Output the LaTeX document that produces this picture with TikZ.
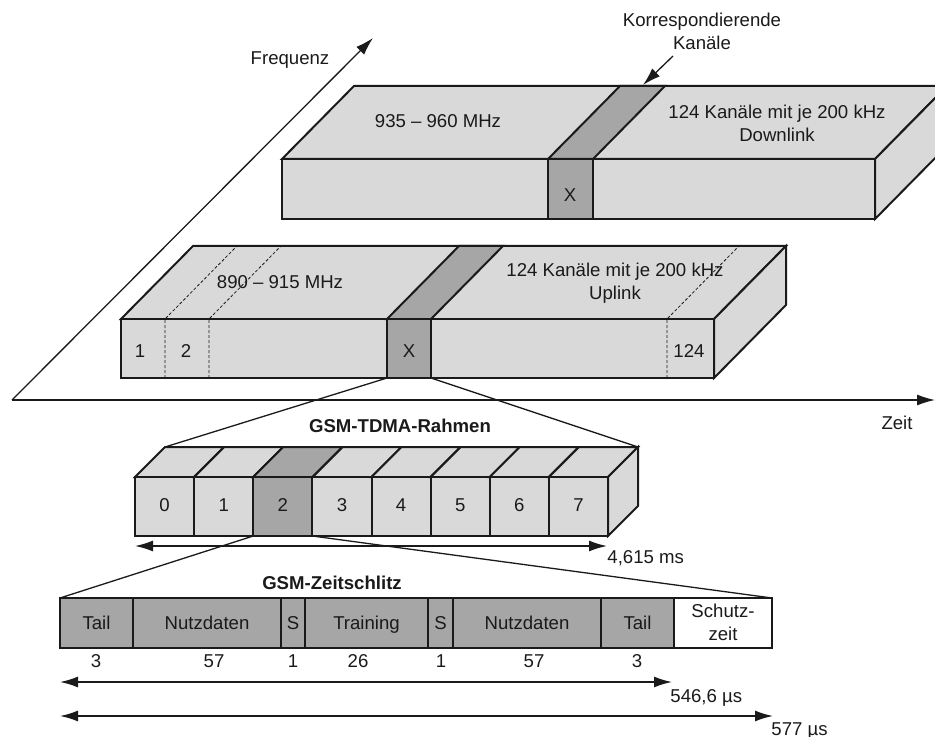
\documentclass[tikz,border=0pt]{standalone}
\usepackage{fontspec}
\setmainfont{Liberation Sans}
\usetikzlibrary{arrows.meta}
\definecolor{gsmLight}{HTML}{D9D9D9}
\definecolor{gsmDark}{HTML}{A6A6A6}
\definecolor{gsmInk}{HTML}{1A1A1A}
\newcommand{\gsmsize}{\fontsize{9.3}{11.5}\selectfont}
\tikzset{
  gsmface/.style={draw=gsmInk,line width=1pt,fill=gsmLight},
  gsmchan/.style={gsmface,fill=gsmDark},
  gsmgap/.style={gsmface,fill=white},
  gsmdiv/.style={draw=gsmInk,line width=0.4pt,dash pattern=on 1.5pt off 1pt},
  gsmaxis/.style={-{Latex[length=9pt,width=5.5pt]},draw=gsmInk,line width=0.65pt},
  gsmzoom/.style={draw=gsmInk,line width=0.65pt},
  gsmdim/.style={{Latex[length=9pt,width=5.5pt]}-{Latex[length=9pt,width=5.5pt]},
                 draw=gsmInk,line width=0.8pt},
  gsmlabel/.style={font=\gsmsize,text=gsmInk,align=center,inner sep=0pt},
  gsmtitle/.style={gsmlabel,font=\gsmsize\bfseries}
}

\begin{document}
\begin{tikzpicture}[x=0.5pt,y=-0.5pt]
    \useasboundingbox (0,0) rectangle (935,737);
    \clip (0,0) rectangle (935,737);

    % axes
    \coordinate (origin) at (12,400);
    \coordinate (ftip) at (373,38);
    \coordinate (ttip) at (935,400);
    \draw[gsmaxis] (origin) -- (ftip);
    \draw[gsmaxis] (origin) -- (ttip);
    \node[gsmlabel,anchor=base] (freq) at (290,65) {Frequenz};
    \node[gsmlabel,anchor=base] (zeit) at (897,429) {Zeit};

    % downlink band
    \draw[gsmface] (282,159) -- (354,86) -- (947,86) -- (875,159) -- cycle;
    \draw[gsmface] (875,159) -- (947,86) -- (947,146) -- (875,219) -- cycle;
    \draw[gsmface] (282,159) rectangle (875,219);
    \draw[gsmchan] (548,159) -- (620,86) -- (665,86) -- (593,159) -- cycle;
    \draw[gsmchan] (548,159) rectangle (593,219);
    \node[gsmlabel,anchor=base] (dlfreq) at (438,128) {935 -- 960 MHz};
    \node[gsmlabel] (dlinfo) at (777,123.5) {124 Kanäle mit je 200 kHz\\Downlink};
    \node[gsmlabel] (dlx) at (570,195) {X};

    \node[gsmlabel] (korr) at (702,31.5) {Korrespondierende\\Kanäle};
    \coordinate (korrfoot) at (673,56);
    \coordinate (dlstrip) at (643,85);
    \draw[gsmaxis] (korrfoot) -- (dlstrip);

    % uplink band
    \draw[gsmface] (121,319) -- (193,246) -- (786,246) -- (714,319) -- cycle;
    \draw[gsmface] (714,319) -- (786,246) -- (786,305) -- (714,378) -- cycle;
    \draw[gsmface] (121,319) rectangle (714,378);
    \draw[gsmchan] (387,319) -- (459,246) -- (503,246) -- (431,319) -- cycle;
    \draw[gsmchan] (387,319) rectangle (431,378);
    \draw[gsmdiv] (165,378) -- (165,319) -- (237,246);
    \draw[gsmdiv] (209,378) -- (209,319) -- (281,246);
    \draw[gsmdiv] (667,378) -- (667,319) -- (739,246);
    \node[gsmlabel] (ulfreq) at (280,282) {890 -- 915 MHz};
    \node[gsmlabel] (ulinfo) at (615,283.5) {124 Kanäle mit je 200 kHz\\Uplink};
    \node[gsmlabel] (ch1) at (140,351) {1};
    \node[gsmlabel] (ch2) at (186,351) {2};
    \node[gsmlabel] (ulx) at (409,351) {X};
    \node[gsmlabel] (ch124) at (689,351) {124};

    % zoom onto one TDMA frame
    \coordinate (ulx-sw) at (387,378);
    \coordinate (ulx-se) at (431,378);
    \coordinate (fr-nw) at (165,447);
    \coordinate (fr-ne) at (638,447);
    \draw[gsmzoom] (ulx-sw) -- (fr-nw);
    \draw[gsmzoom] (ulx-se) -- (fr-ne);
    \node[gsmtitle] (frtitle) at (400,425.5) {GSM-TDMA-Rahmen};

    \foreach \i in {0,...,7} {
      \pgfmathsetmacro\xa{135+59.125*\i}
      \pgfmathsetmacro\xb{\xa+59.125}
      \draw[gsmface] (\xa,477) -- ++(30,-30) -- ({\xb+30},447) -- (\xb,477) -- cycle;
      \draw[gsmface] (\xa,477) rectangle (\xb,536);
    }
    \draw[gsmchan] (253.25,477) -- (283.25,447) -- (342.375,447) -- (312.375,477) -- cycle;
    \draw[gsmchan] (253.25,477) rectangle (312.375,536);
    \draw[gsmface] (608,477) -- (638,447) -- (638,506) -- (608,536) -- cycle;
    \foreach \i in {0,...,7}
      \node[gsmlabel] (slot\i) at ({164.56+59.125*\i},505) {\i};

    \coordinate (fr-l) at (135,546);
    \coordinate (fr-r) at (607,546);
    \draw[gsmdim] (fr-l) -- (fr-r);
    \node[gsmlabel,anchor=base west] (frlen) at (607,563) {4,615 ms};

    % zoom onto one time slot
    \coordinate (sl-sw) at (253.25,536);
    \coordinate (sl-se) at (312.375,536);
    \coordinate (ts-nw) at (60,598);
    \coordinate (ts-ne) at (772,598);
    \draw[gsmzoom] (sl-sw) -- (ts-nw);
    \draw[gsmzoom] (sl-se) -- (ts-ne);
    \node[gsmtitle] (tstitle) at (332,583) {GSM-Zeitschlitz};

    \foreach \xa/\xb/\txt [count=\k] in {60/133/Tail,133/281/Nutzdaten,281/305/S,
        305/428/Training,428/453/S,453/601/Nutzdaten,601/674/Tail} {
      \draw[gsmchan] (\xa,598) rectangle (\xb,648);
      \node[gsmlabel,anchor=base] (field\k) at ({(\xa+\xb)/2},629) {\txt};
    }
    \draw[gsmgap] (674,598) rectangle (772,648);
    \node[gsmlabel] (guard) at (723,622.5) {Schutz-\\zeit};

    \foreach \x/\n [count=\k] in {96/3,214/57,293/1,358/26,441/1,534/57,637/3}
      \node[gsmlabel,anchor=base] (bits\k) at (\x,667) {\n};

    \coordinate (burst-l) at (60,682);
    \coordinate (burst-r) at (672,682);
    \draw[gsmdim] (burst-l) -- (burst-r);
    \node[gsmlabel,anchor=base west] (burstlen) at (670,702) {546,6 µs};

    \coordinate (slot-l) at (60,716);
    \coordinate (slot-r) at (773,716);
    \draw[gsmdim] (slot-l) -- (slot-r);
    \node[gsmlabel,anchor=base west] (slotlen) at (771,735) {577 µs};
\end{tikzpicture}
\end{document}
